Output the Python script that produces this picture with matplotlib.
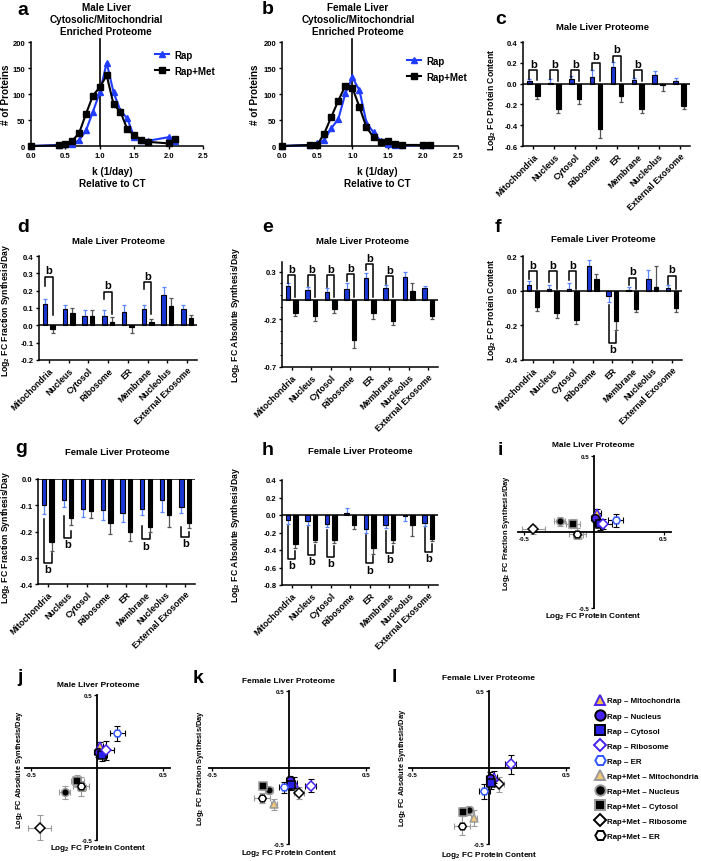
import matplotlib
matplotlib.use('Agg')
import matplotlib.pyplot as plt
from matplotlib.lines import Line2D
from matplotlib.ticker import FormatStrFormatter
import numpy as np

plt.rcParams['font.family'] = ['Liberation Sans', 'DejaVu Sans']
plt.rcParams['font.weight'] = 'bold'
plt.rcParams['mathtext.fontset'] = 'custom'
plt.rcParams['mathtext.rm'] = 'Liberation Sans:bold'
plt.rcParams['mathtext.default'] = 'rm'
plt.rcParams['axes.unicode_minus'] = False
plt.rcParams['axes.linewidth'] = 1.1

# ---- k distribution (panels a, b) ----
K_BINS = [0.0, 0.4, 0.5, 0.6, 0.7, 0.8, 0.9, 1.0, 1.1, 1.2, 1.3, 1.4, 1.5, 1.6, 1.7, 2.0, 2.1]
male_k_rap = [0, 2, 3, 3, 11, 30, 66, 103, 160, 103, 68, 53, 17, 12, 10, 17, 9]
male_k_met = [0, 1, 4, 10, 25, 62, 97, 113, 136, 80, 66, 32, 21, 12, 8, 5, 13]
female_k_rap = [0, 2, 6, 11, 34, 52, 101, 132, 107, 45, 26, 10, 4, 2, 1, 2, 1]
female_k_met = [0, 2, 2, 24, 56, 87, 116, 112, 75, 36, 17, 8, 10, 4, 2, 2, 1]

# ---- compartment bars (panels c-h) ----
CATS = ['Mitochondria', 'Nucleus', 'Cytosol', 'Ribosome', 'ER', 'Membrane',
        'Nucleolus', 'External Exosome']

male_content_rap = [0.025, 0.010, 0.040, 0.065, 0.155, 0.035, 0.080, 0.025]
male_content_rap_err = [0.023, 0.030, 0.035, 0.065, 0.055, 0.020, 0.045, 0.025]
male_content_met = [-0.115, -0.245, -0.150, -0.435, -0.120, -0.245, -0.010, -0.215]
male_content_met_err = [0.035, 0.040, 0.050, 0.085, 0.060, 0.035, 0.060, 0.030]

male_frac_rap = [0.125, 0.092, 0.052, 0.055, 0.078, 0.093, 0.173, 0.095]
male_frac_rap_err = [0.025, 0.028, 0.036, 0.033, 0.042, 0.026, 0.047, 0.024]
male_frac_met = [-0.020, 0.070, 0.055, 0.018, -0.010, 0.018, 0.110, 0.040]
male_frac_met_err = [0.022, 0.030, 0.031, 0.030, 0.036, 0.020, 0.050, 0.020]

male_abs_rap = [0.150, 0.105, 0.085, 0.120, 0.235, 0.130, 0.245, 0.125]
male_abs_rap_err = [0.025, 0.030, 0.040, 0.065, 0.050, 0.025, 0.055, 0.020]
male_abs_met = [-0.135, -0.170, -0.095, -0.415, -0.130, -0.220, 0.100, -0.170]
male_abs_met_err = [0.030, 0.045, 0.040, 0.085, 0.065, 0.035, 0.080, 0.030]

female_content_rap = [0.035, 0.008, 0.012, 0.140, -0.030, 0.005, 0.067, 0.015]
female_content_rap_err = [0.020, 0.025, 0.030, 0.035, 0.035, 0.015, 0.055, 0.015]
female_content_met = [-0.095, -0.130, -0.170, 0.065, -0.175, -0.105, 0.020, -0.100]
female_content_met_err = [0.020, 0.025, 0.025, 0.030, 0.050, 0.020, 0.120, 0.025]

female_frac_rap = [-0.100, -0.080, -0.115, -0.118, -0.130, -0.113, -0.080, -0.108]
female_frac_rap_err = [0.035, 0.025, 0.030, 0.040, 0.035, 0.025, 0.045, 0.020]
female_frac_met = [-0.240, -0.150, -0.120, -0.168, -0.200, -0.182, -0.137, -0.168]
female_frac_met_err = [0.035, 0.025, 0.028, 0.040, 0.035, 0.020, 0.045, 0.020]

female_abs_rap = [-0.060, -0.070, -0.100, 0.020, -0.155, -0.110, -0.010, -0.090]
female_abs_rap_err = [0.040, 0.040, 0.040, 0.060, 0.050, 0.040, 0.060, 0.030]
female_abs_met = [-0.330, -0.280, -0.290, -0.110, -0.380, -0.290, -0.115, -0.270]
female_abs_met_err = [0.050, 0.030, 0.030, 0.050, 0.060, 0.030, 0.120, 0.030]

# y tick values of the bar panels
C_TICKS = [-0.6, -0.4, -0.2, 0.0, 0.2, 0.4]
D_TICKS = [-0.2, -0.1, 0.0, 0.1, 0.2, 0.3, 0.4]
E_TICKS = [-0.7, -0.2, 0.3]
F_TICKS = [-0.4, -0.2, 0.0, 0.2]
G_TICKS = [-0.4, -0.3, -0.2, -0.1, 0.0]
H_TICKS = [-0.8, -0.6, -0.4, -0.2, 0.0, 0.2, 0.4]

# significance brackets: (category, bracket level, left leg end, right leg end)
C_BRACKETS = [(0, 0.13, 0.048, 0.032), (1, 0.13, 0.042, 0.026), (2, 0.13, 0.058, 0.026),
              (3, 0.20, 0.128, 0.026), (4, 0.27, 0.21, 0.026), (5, 0.13, 0.05, 0.026)]
D_BRACKETS = [(0, 0.28, 0.226, 0.06), (3, 0.194, 0.15, 0.063), (5, 0.25, 0.207, 0.063)]
E_BRACKETS = [(0, 0.26, 0.185, 0.03), (1, 0.26, 0.15, 0.03), (2, 0.26, 0.14, 0.03),
              (3, 0.27, 0.205, 0.03), (4, 0.38, 0.32, 0.03), (5, 0.25, 0.17, 0.03)]
F_BRACKETS = [(0, 0.114, 0.07, 0.011), (1, 0.114, 0.05, 0.011), (2, 0.114, 0.06, 0.011),
              (4, -0.30, -0.08, -0.24), (5, 0.075, 0.035, 0.011), (7, 0.086, 0.038, 0.011)]
G_BRACKETS = [(0, -0.32, -0.152, -0.28), (1, -0.225, -0.14, -0.197),
              (5, -0.23, -0.178, -0.21), (7, -0.22, -0.184, -0.203)]
H_BRACKETS = [(0, -0.50, -0.13, -0.41), (1, -0.455, -0.14, -0.34), (2, -0.475, -0.17, -0.35),
              (4, -0.55, -0.23, -0.47), (5, -0.43, -0.18, -0.35), (7, -0.42, -0.15, -0.33)]

SCATTER_N = 5  # Mitochondria .. ER
LEGEND_LABELS = ['Rap – Mitochondria', 'Rap – Nucleus', 'Rap – Cytosol', 'Rap – Ribosome',
                 'Rap – ER', 'Rap+Met – Mitochondria', 'Rap+Met – Nucleus',
                 'Rap+Met – Cytosol', 'Rap+Met – Ribosome', 'Rap+Met – ER']

BLUE_LINE = '#1f3cff'
BAR_BLUE = '#1a37d6'
ERR_BLUE = '#5a86ff'
VIOLET = '#4a22f0'
ER_BLUE = '#3157ff'
GOLD = '#f3c04a'
TAN = '#f0c878'
GREY = '#9a9a9a'

RAP_STYLE = [('^', GOLD, VIOLET), ('o', VIOLET, 'black'), ('s', '#2a20e6', 'black'),
             ('D', 'white', VIOLET), ('H', 'white', ER_BLUE)]
MET_STYLE = [('^', TAN, GREY), ('o', 'black', GREY), ('s', 'black', GREY),
             ('D', 'white', 'black'), ('H', 'white', 'black')]

W, H = 701, 862
fig = plt.figure(figsize=(W / 100, H / 100), dpi=100)


def px_axes(l, r, t, b):
    return fig.add_axes([l / W, 1 - b / H, (r - l) / W, (b - t) / H])


def ftext(x, y, s, **kw):
    return fig.text(x / W, 1 - y / H, s, **kw)


def k_panel(ax, rap, met, leg_xy):
    ax.plot(K_BINS, rap, color=BLUE_LINE, lw=1.5, marker='^', ms=5, clip_on=False,
            zorder=3, label='Rap')
    ax.plot(K_BINS, met, color='black', lw=1.5, marker='s', ms=4.3, clip_on=False,
            zorder=4, label='Rap+Met')
    ax.axvline(1.0, ymin=0, ymax=1.03, color='black', lw=1.2, clip_on=False)
    ax.set_xlim(0, 2.5)
    ax.set_ylim(0, 200)
    ax.set_xticks([0, 0.5, 1.0, 1.5, 2.0, 2.5])
    ax.xaxis.set_major_formatter(FormatStrFormatter('%.1f'))
    ax.set_yticks([0, 50, 100, 150, 200])
    ax.tick_params(labelsize=5.5, length=2.5, width=1, pad=1.5)
    for s in ('top', 'right'):
        ax.spines[s].set_visible(False)
    ax.legend(loc='upper left', bbox_to_anchor=(leg_xy[0] / W, 1 - leg_xy[1] / H),
              bbox_transform=fig.transFigure, frameon=False, fontsize=7,
              handlelength=1.5, handletextpad=0.5, labelspacing=0.6, borderpad=0)


def bar_panel(ax, rap, rap_err, met, met_err, ylim, yticks, brackets, minor=None):
    x = np.arange(len(CATS))
    rap, rap_err = np.array(rap), np.array(rap_err)
    met, met_err = np.array(met), np.array(met_err)
    off, w = 0.19, 0.22
    ax.bar(x - off, rap, w, color=BAR_BLUE, edgecolor='black', lw=0.8, zorder=2)
    ax.bar(x + off, met, w, color='black', edgecolor='black', lw=0.8, zorder=2)
    ax.errorbar(x - off, rap, yerr=[np.where(rap < 0, rap_err, 0), np.where(rap >= 0, rap_err, 0)],
                fmt='none', ecolor=ERR_BLUE, elinewidth=0.9, capsize=1.5, capthick=0.9, zorder=1)
    ax.errorbar(x + off, met, yerr=[np.where(met < 0, met_err, 0), np.where(met >= 0, met_err, 0)],
                fmt='none', ecolor='#555555', elinewidth=0.9, capsize=1.5, capthick=0.9, zorder=1)
    ax.axhline(0, color='black', lw=1.1, zorder=3)
    for i, yb, yl, yr in brackets:
        ax.plot([i - off, i - off, i + off, i + off], [yl, yb, yb, yr], color='black', lw=1.1,
                zorder=4, clip_on=False)
        above = yb > yl
        ax.annotate('b', (i, yb), xytext=(0, 1 if above else -1), textcoords='offset points',
                    ha='center', va='bottom' if above else 'top', fontsize=8,
                    fontweight='bold', annotation_clip=False)
    ax.set_xlim(-0.5, 7.5)
    ax.set_ylim(ylim)
    ax.set_yticks(yticks)
    if minor is not None:
        ax.set_yticks(minor, minor=True)
    ax.yaxis.set_major_formatter(FormatStrFormatter('%.1f'))
    ax.set_xticks(x)
    ax.set_xticklabels(CATS, rotation=45, ha='right', rotation_mode='anchor', fontsize=6.3)
    ax.tick_params(axis='y', labelsize=5.5, length=2.5, width=1, pad=1.5)
    ax.tick_params(axis='y', which='minor', length=1.5, width=0.8)
    ax.tick_params(axis='x', length=2.5, width=1, pad=1.5)
    for s in ('top', 'right'):
        ax.spines[s].set_visible(False)


def cross_panel(ax, xr, xre, yr, yre, xm, xme, ym, yme, xl):
    for i in range(SCATTER_N):
        m, fc, ec = MET_STYLE[i]
        ax.errorbar(xm[i], ym[i], xerr=xme[i], yerr=yme[i], fmt='none', ecolor=GREY,
                    elinewidth=0.8, capsize=2, capthick=0.8, zorder=2)
        ax.plot(xm[i], ym[i], marker=m, ms=4.6 if m == 'D' else 5.5, mfc=fc, mec=ec, mew=1.1,
                ls='none', zorder=3)
    for i in range(SCATTER_N):
        m, fc, ec = RAP_STYLE[i]
        ax.errorbar(xr[i], yr[i], xerr=xre[i], yerr=yre[i], fmt='none', ecolor='black',
                    elinewidth=0.8, capsize=2, capthick=0.8, zorder=4)
        ax.plot(xr[i], yr[i], marker=m, ms=4.6 if m == 'D' else 5.5, mfc=fc, mec=ec, mew=1.1,
                ls='none', zorder=5)
    ax.set_xlim(-xl, xl)
    ax.set_ylim(-0.5, 0.5)
    for s in ('left', 'bottom'):
        ax.spines[s].set_position(('data', 0))
        ax.spines[s].set_linewidth(1.3)
    for s in ('top', 'right'):
        ax.spines[s].set_visible(False)
    ax.set_xticks([-0.5, 0.5])
    ax.set_yticks([-0.5, 0.5])
    ax.xaxis.set_major_formatter(FormatStrFormatter('%.1f'))
    ax.yaxis.set_major_formatter(FormatStrFormatter('%.1f'))
    ax.tick_params(labelsize=4.5, length=2, width=0.9, pad=1)


# ---- panel a / b ----
ax_a = px_axes(31, 203, 43, 147)
k_panel(ax_a, male_k_rap, male_k_met, (150, 46))
ax_b = px_axes(282, 458, 43, 147)
k_panel(ax_b, female_k_rap, female_k_met, (402, 52))
ftext(106, 20, 'Male Liver\nCytosolic/Mitochondrial\nEnriched Proteome', ha='center',
      va='center', fontsize=7.2, linespacing=1.25)
ftext(358, 20, 'Female Liver\nCytosolic/Mitochondrial\nEnriched Proteome', ha='center',
      va='center', fontsize=7.2, linespacing=1.25)
for xc in (112, 377):
    ftext(xc, 178, 'k (1/day)\nRelative to CT', ha='center', va='center', fontsize=7.2,
          linespacing=1.25)
ftext(6, 95, '# of Proteins', rotation=90, ha='center', va='center', fontsize=7.2)
ftext(255, 95, '# of Proteins', rotation=90, ha='center', va='center', fontsize=7.2)

# ---- bar panels ----
ax_c = px_axes(523, 690, 43, 147)
bar_panel(ax_c, male_content_rap, male_content_rap_err, male_content_met, male_content_met_err,
          (-0.6, 0.4), C_TICKS, C_BRACKETS)
ax_d = px_axes(39, 197, 257, 361)
bar_panel(ax_d, male_frac_rap, male_frac_rap_err, male_frac_met, male_frac_met_err,
          (-0.2, 0.4), D_TICKS, D_BRACKETS)
ax_e = px_axes(282, 438, 263, 368)
bar_panel(ax_e, male_abs_rap, male_abs_rap_err, male_abs_met, male_abs_met_err,
          (-0.7, 0.4), E_TICKS, E_BRACKETS, minor=np.arange(-0.7, 0.31, 0.125))
ax_f = px_axes(523, 682, 257, 361)
bar_panel(ax_f, female_content_rap, female_content_rap_err, female_content_met,
          female_content_met_err, (-0.4, 0.2), F_TICKS, F_BRACKETS)
ax_g = px_axes(38, 195, 480, 585)
bar_panel(ax_g, female_frac_rap, female_frac_rap_err, female_frac_met, female_frac_met_err,
          (-0.4, 0.0), G_TICKS, G_BRACKETS)
ax_h = px_axes(282, 438, 481, 586)
bar_panel(ax_h, female_abs_rap, female_abs_rap_err, female_abs_met, female_abs_met_err,
          (-0.8, 0.4), H_TICKS, H_BRACKETS)

bar_titles = [(603, 28, 'Male Liver Proteome'), (118, 242, 'Male Liver Proteome'),
              (362, 242, 'Male Liver Proteome'), (603, 240, 'Female Liver Proteome'),
              (117, 453, 'Female Liver Proteome'), (360, 452, 'Female Liver Proteome')]
for xc, yc, s in bar_titles:
    ftext(xc, yc, s, ha='center', va='center', fontsize=6.8)

bar_ylabels = [(492, 100, 'Log$_2$ FC Protein Content'),
               (6, 310, 'Log$_2$ FC Fraction Synthesis/Day'),
               (235, 315, 'Log$_2$ FC Absolute Synthesis/Day'),
               (492, 310, 'Log$_2$ FC Protein Content'),
               (6, 537, 'Log$_2$ FC Fraction Synthesis/Day'),
               (235, 535, 'Log$_2$ FC Absolute Synthesis/Day')]
for xc, yc, s in bar_ylabels:
    ftext(xc, yc, s, rotation=90, ha='center', va='center', fontsize=6.2)

# ---- scatter panels ----
n = SCATTER_N
ax_i = px_axes(517.5, 670.5, 457, 609)
cross_panel(ax_i, male_content_rap[:n], male_content_rap_err[:n], male_frac_rap[:n],
            male_frac_rap_err[:n], male_content_met[:n], male_content_met_err[:n],
            male_frac_met[:n], male_frac_met_err[:n], 0.55)
ax_j = px_axes(24.5, 169.5, 696, 841)
cross_panel(ax_j, male_content_rap[:n], male_content_rap_err[:n], male_abs_rap[:n],
            male_abs_rap_err[:n], male_content_met[:n], male_content_met_err[:n],
            male_abs_met[:n], male_abs_met_err[:n], 0.55)
ax_k = px_axes(209, 369, 692, 845)
cross_panel(ax_k, female_content_rap[:n], female_content_rap_err[:n], female_frac_rap[:n],
            female_frac_rap_err[:n], female_content_met[:n], female_content_met_err[:n],
            female_frac_met[:n], female_frac_met_err[:n], 0.52)
ax_l = px_axes(409, 569, 692, 845)
cross_panel(ax_l, female_content_rap[:n], female_content_rap_err[:n], female_abs_rap[:n],
            female_abs_rap_err[:n], female_content_met[:n], female_content_met_err[:n],
            female_abs_met[:n], female_abs_met_err[:n], 0.52)

scatter_titles = [(593, 446, 'Male Liver Proteome'), (98, 686, 'Male Liver Proteome'),
                  (289, 682, 'Female Liver Proteome'), (489, 679, 'Female Liver Proteome')]
for xc, yc, s in scatter_titles:
    ftext(xc, yc, s, ha='center', va='center', fontsize=6)
scatter_xlabels = [(593, 617), (98, 849), (289, 854), (489, 856)]
for xc, yc in scatter_xlabels:
    ftext(xc, yc, 'Log$_2$ FC Protein Content', ha='center', va='center', fontsize=5.9)
scatter_ylabels = [(507, 533, 'Log$_2$ FC Fraction Synthesis/Day'),
                   (20, 770, 'Log$_2$ FC Absolute Synthesis/Day'),
                   (200, 768, 'Log$_2$ FC Fraction Synthesis/Day'),
                   (402, 768, 'Log$_2$ FC Absolute Synthesis/Day')]
for xc, yc, s in scatter_ylabels:
    ftext(xc, yc, s, rotation=90, ha='center', va='center', fontsize=5.4)

# ---- legend for scatter markers ----
handles = []
for m, fc, ec in RAP_STYLE + MET_STYLE:
    handles.append(Line2D([], [], marker=m, ms=6.5 if m == 'D' else 7.5, mfc=fc, mec=ec,
                          mew=1.4, ls='none'))
fig.legend(handles, LEGEND_LABELS, loc='upper left', bbox_to_anchor=(592 / W, 1 - 694 / H),
           frameon=False, fontsize=5.7, handlelength=1.0, handletextpad=0.4,
           labelspacing=0.95, borderpad=0)

# ---- panel letters ----
letters = [('a', 17, 15), ('b', 262, 14), ('c', 495, 24), ('d', 17, 232), ('e', 262, 232),
           ('f', 495, 232), ('g', 15, 453), ('h', 262, 455), ('i', 498, 455),
           ('j', 17, 682), ('k', 193, 683), ('l', 392, 682)]
for s, xl, yl in letters:
    ftext(xl, yl, s, fontsize=14, fontweight='bold', va='baseline')

fig.savefig('out.png', dpi=100)
